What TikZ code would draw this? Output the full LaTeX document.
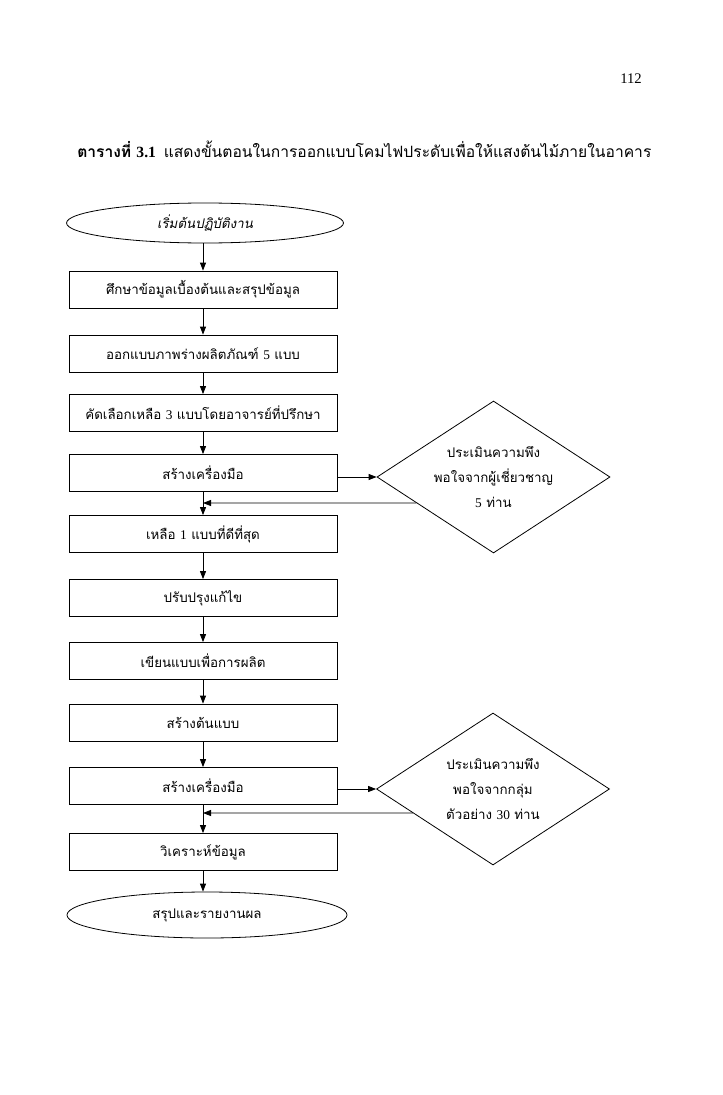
\documentclass[tikz,border=0pt]{standalone}
\usepackage{fontspec}
\setmainfont{Liberation Serif}
\newfontfamily\thai[Script=Thai]{Loma}
\newfontfamily\thaiit[Script=Thai,FakeSlant=0.2]{Loma}
\newcommand\dg[1]{{\rmfamily #1}}
\usetikzlibrary{shapes.geometric,arrows.meta,calc}
\begin{document}
\begin{tikzpicture}[x=0.75pt,y=-0.75pt,
  thaitext/.style={font=\thai\fontsize{10}{12}\selectfont},
  box/.style={draw,line width=0.6pt,minimum width=268*0.75pt,minimum height=37*0.75pt,inner sep=0pt,thaitext},
  term/.style={draw,ellipse,line width=0.6pt,inner sep=0pt},
  dia/.style={draw,diamond,aspect=1.5,line width=0.6pt,inner sep=0pt,minimum width=233*0.75pt,minimum height=152*0.75pt,align=center,thaitext},
  arr/.style={line width=0.6pt,-{Triangle[length=6pt,width=4.5pt]}},
  ln/.style={line width=0.6pt}]
\useasboundingbox (0,0) rectangle (722,1095);
\node[font=\fontsize{11}{13}\selectfont] (pg) at (631,79) {112};
\node[anchor=west,inner sep=0pt,font=\thai\fontsize{11.7}{14}\selectfont] (title) at (77,149) {{\bfseries ตารางที่ \dg{3.1}}\enspace แสดงขั้นตอนในการออกแบบโคมไฟประดับเพื่อให้แสงต้นไม้ภายในอาคาร};
\node[term,minimum width=277*0.75pt,minimum height=40*0.75pt,font=\thaiit\fontsize{10}{12}\selectfont] (e1) at (205,223) {เริ่มต้นปฏิบัติงาน};
\node[box] (b1) at (203,289.5) {ศึกษาข้อมูลเบื้องต้นและสรุปข้อมูล};
\node[box] (b2) at (203,353.5) {ออกแบบภาพร่างผลิตภัณฑ์ \dg{5} แบบ};
\node[box] (b3) at (203,413) {คัดเลือกเหลือ \dg{3} แบบโดยอาจารย์ที่ปรึกษา};
\node[box] (b4) at (203,473) {สร้างเครื่องมือ};
\node[box] (b5) at (203,534) {เหลือ \dg{1} แบบที่ดีที่สุด};
\node[box] (b6) at (203,598) {ปรับปรุงแก้ไข};
\node[box] (b7) at (203,661) {เขียนแบบเพื่อการผลิต};
\node[box] (b8) at (203,722.5) {สร้างต้นแบบ};
\node[box] (b9) at (203,786) {สร้างเครื่องมือ};
\node[box] (b10) at (203,852) {วิเคราะห์ข้อมูล};
\node[term,minimum width=280*0.75pt,minimum height=46*0.75pt,thaitext] (e2) at (207,915) {สรุปและรายงานผล};
\node[dia] (d1) at (493.5,477) {\raisebox{-3pt}{\parbox{100pt}{\centering ประเมินความพึง\\[7pt]พอใจจากผู้เชี่ยวชาญ\\[7pt]\dg{5} ท่าน}}};
\node[dia] (d2) at (493,789) {\raisebox{-3pt}{\parbox{100pt}{\centering ประเมินความพึง\\[7pt]พอใจจากกลุ่ม\\[7pt]ตัวอย่าง \dg{30} ท่าน}}};
\coordinate (m1) at (203,503);
\coordinate (m1r) at (303,503);
\coordinate (m2) at (203,813);
\coordinate (m2r) at (303,813);
\draw[arr] (b1.north |- e1.south) -- (b1.north);
\foreach \i/\j in {1/2,2/3,3/4,4/5,5/6,6/7,7/8,8/9,9/10}
  \draw[arr] (b\i) -- (b\j);
\draw[arr] (b10.south) -- (b10.south |- e2.north);
\draw[arr] (b4.east |- d1.west) -- (d1.west);
\draw[arr] (intersection of d1.west--d1.south and m1--m1r) -- (m1);
\draw[arr] (b9.east |- d2.west) -- (d2.west);
\draw[arr] (intersection of d2.west--d2.south and m2--m2r) -- (m2);
\end{tikzpicture}
\end{document}
